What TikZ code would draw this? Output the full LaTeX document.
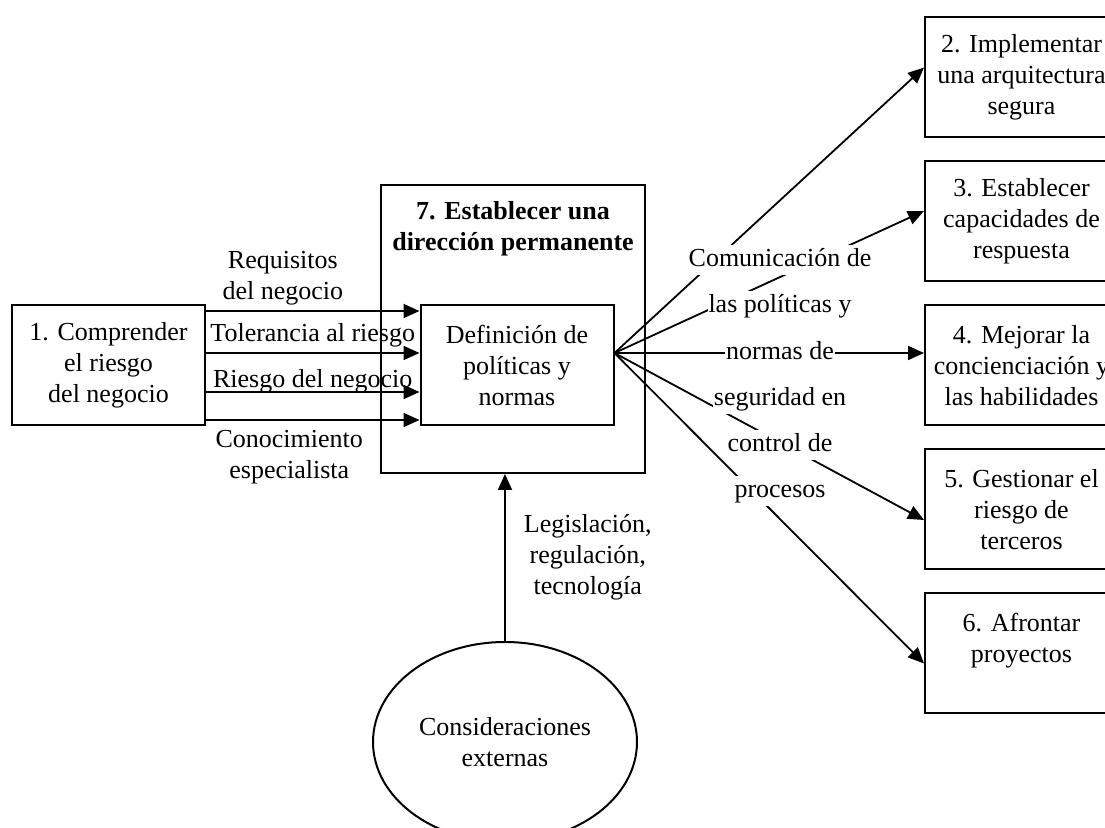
\documentclass[tikz,border=0pt]{standalone}
\usepackage{fontspec}
\setmainfont{Liberation Serif}
\usetikzlibrary{positioning,arrows.meta,shapes.geometric}

\newcommand{\diagsize}{\fontsize{13}{15.5}\selectfont}

\begin{document}
\begin{tikzpicture}[x=0.5pt,y=-0.5pt,node distance=72pt,on grid,
    font=\diagsize,
    >={Triangle[length=8pt,width=7pt]},
    box/.style={draw,line width=1pt,align=center,inner sep=2pt,minimum width=96.5pt,minimum height=60pt},
    flow/.style={->,line width=0.9pt},
    fantext/.style={fill=white,inner xsep=0.5pt,inner ysep=1pt,text height=10pt,text depth=3pt}]
    \useasboundingbox (0,0) rectangle (1105,828);
    \node[box] (def) at (517,365.5) {Definición de\\políticas y\\normas};
    \node[box] (n1) at (108.5,365.5) {1. Comprender\\el riesgo\\del negocio};
    \node[box,minimum width=132pt,minimum height=144pt] (n7) at (513,329) {};
    \node[font=\diagsize\bfseries,align=center,anchor=north,inner sep=0pt] (t7) at ([yshift=-8.5pt]n7.north) {7. Establecer una\\dirección permanente};
    \node[box] (n4) at (1021.5,365.5) {4. Mejorar la\\concienciación y\\las habilidades};
    \node[box] (n3) [above=of n4] {3. Establecer\\capacidades de\\respuesta};
    \node[box] (n2) [above=of n3] {2. Implementar\\una arquitectura\\segura};
    \node[box] (n5) [below=of n4] {5. Gestionar el\\riesgo de\\terceros};
    \node[box] (n6) [below=of n5] {6. Afrontar\\proyectos\\\mbox{}};
    \node[draw,ellipse,line width=1pt,minimum width=132pt,minimum height=100pt,align=center] (ext) at (505,742) {Consideraciones\\externas};
    % entradas
    \draw[flow] ([yshift=27.25pt]n1.east) -- node[pos=.36,above=2.6pt,inner sep=0pt,align=center] (lreq) {Requisitos\\del negocio} ([yshift=27.25pt]def.west);
    \draw[flow] ([yshift=6.25pt]n1.east) -- node[above=2.6pt,inner sep=0pt] (ltol) {Tolerancia al riesgo} ([yshift=6.25pt]def.west);
    \draw[flow] ([yshift=-13.25pt]n1.east) -- node[above=-1pt,inner sep=0pt] (lrie) {Riesgo del negocio} ([yshift=-13.25pt]def.west);
    \draw[flow] ([yshift=-27.25pt]n1.east) -- node[pos=.39,below=4.5pt,inner sep=0pt,align=center] (lcon) {Conocimiento\\especialista} ([yshift=-27.25pt]def.west);
    \draw[flow] (ext.north) -- node[right=9pt,inner sep=0pt,align=center] (lleg) {Legislación,\\regulación,\\tecnología} (ext.north |- n7.south);
    % salidas
    \coordinate (fan) at ([yshift=6.25pt]def.east);
    \draw[flow] (fan) -- ([yshift=5pt]n2.west);
    \draw[flow] (fan) -- ([yshift=5.25pt]n3.west);
    \draw[flow] (fan) -- ([yshift=6.25pt]n4.west);
    \draw[flow] (fan) -- ([yshift=-5.25pt]n5.west);
    \draw[flow] (fan) -- ([yshift=-5pt]n6.west);
    \node[fantext,anchor=base] (c1) at (780,267) {Comunicación de};
    \node[fantext,anchor=base] (c2) at (780,313) {las políticas y};
    \node[fantext,anchor=base] (c3) at (780,360) {normas de};
    \node[fantext,anchor=base] (c4) at (780,406) {seguridad en};
    \node[fantext,anchor=base] (c5) at (780,452) {control de};
    \node[fantext,anchor=base] (c6) at (780,498) {procesos};
\end{tikzpicture}
\end{document}
